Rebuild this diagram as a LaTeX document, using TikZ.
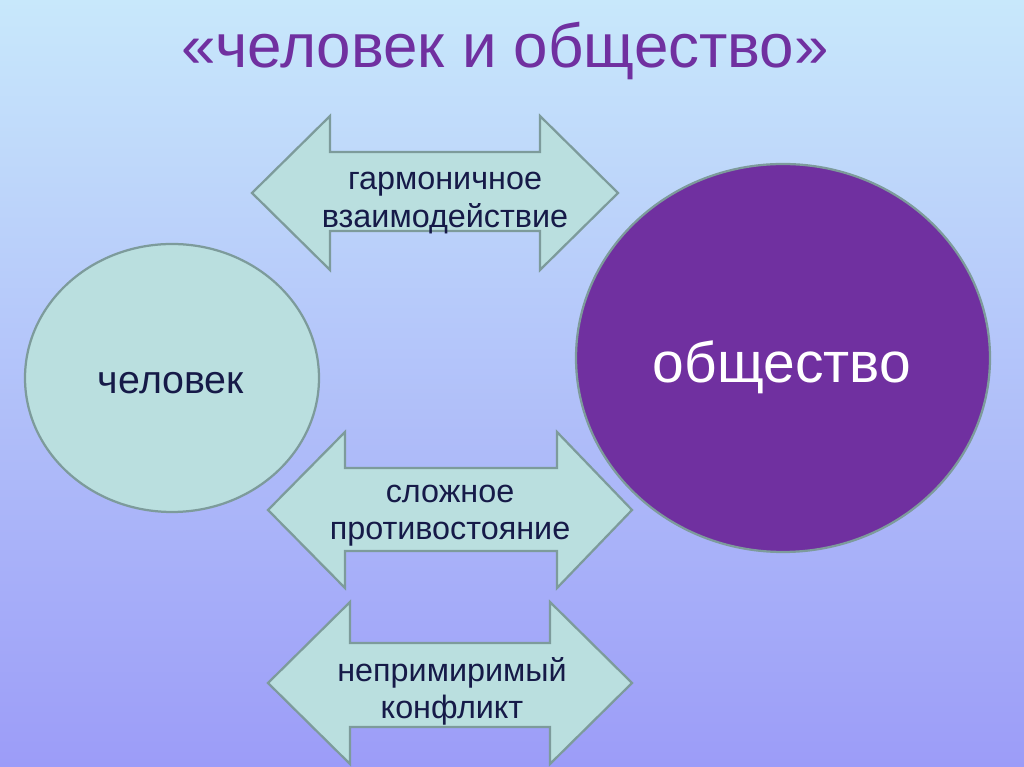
\documentclass[tikz,border=0pt]{standalone}
\usepackage{fontspec}
\setmainfont{Liberation Sans}
\usepackage{tikz}
\usetikzlibrary{positioning}
\usepackage{xcolor}
\definecolor{bgtop}{RGB}{200,232,251}
\definecolor{bgmid}{RGB}{182,198,250}
\definecolor{bgbottom}{RGB}{156,156,248}
\definecolor{sopurple}{RGB}{112,48,160}
\definecolor{soteal}{RGB}{186,223,223}
\definecolor{soedge}{RGB}{125,155,155}
\definecolor{sonavy}{RGB}{22,26,72}
\tikzstyle{dblarrow} = [draw=soedge, fill=soteal, line width=1.6pt, line join=miter]
\tikzstyle{arrowtext} = [align=center, text=sonavy, font=\fontsize{23}{26.5}\selectfont]

\begin{document}
\begin{tikzpicture}[x=0.025cm, y=0.025cm]
% Background
\shade[top color=bgtop, middle color=bgmid, bottom color=bgbottom] (0,0) rectangle (1024,767);
\useasboundingbox (0,0) rectangle (1024,767);

% Title
\node[text=sopurple, font=\fontsize{44}{50}\selectfont, anchor=base] (title) at (505,699) {«человек и общество»};

% Circles
\draw[dblarrow] (172,389) ellipse [x radius=147, y radius=134];
\node[text=sonavy, font=\fontsize{28}{32}\selectfont] (person) at (171,384) {человек};
\draw[dblarrow, fill=sopurple] (783,409) ellipse [x radius=207, y radius=194];
\node[text=white, font=\fontsize{40.5}{46}\selectfont] (society) at (782,400) {общество};

% Double arrows
\draw[dblarrow] (252,574) -- (330,651) -- (330,615) -- (540,615) -- (540,651) -- (618,574)
  -- (540,497) -- (540,536) -- (330,536) -- (330,497) -- cycle;
\node[arrowtext] (harmony) at (445,564) {гармоничное\\взаимодействие};

\draw[dblarrow] (268,257) -- (345,335) -- (345,299) -- (557,299) -- (557,335) -- (632,257)
  -- (557,179) -- (557,216) -- (345,216) -- (345,179) -- cycle;
\node[arrowtext] (tension) at (450,251) {сложное\\противостояние};

\draw[dblarrow] (268,84) -- (350,165) -- (350,124) -- (550,124) -- (550,165) -- (632,84)
  -- (550,3) -- (550,40) -- (350,40) -- (350,3) -- cycle;
\node[arrowtext] (conflict) at (452,76) {непримиримый\\конфликт};
\end{tikzpicture}
\end{document}
